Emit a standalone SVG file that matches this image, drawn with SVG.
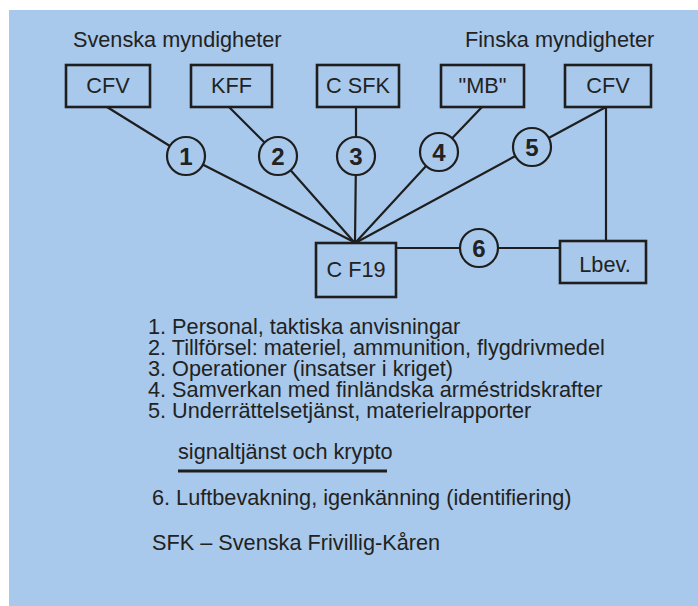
<svg xmlns="http://www.w3.org/2000/svg" width="698" height="606" viewBox="0 0 698 606">
<style>
  text { font-family: "Liberation Sans", Arial, sans-serif; fill: #222; }
  .t { font-size: 21.7px; }
  .num { font-size: 24px; font-weight: bold; text-anchor: middle; }
  .lbl { font-size: 21.7px; text-anchor: middle; }
  .box { fill: none; stroke: #1e1e1e; stroke-width: 2.6; }
  .circ { fill: #a8c9eb; stroke: #1e1e1e; stroke-width: 2.2; }
  .con { stroke: #1e1e1e; stroke-width: 2.2; fill: none; }
</style>
<rect x="0" y="0" width="698" height="606" fill="#ffffff"/>
<rect x="9" y="10" width="689" height="596" fill="#a8c9eb"/>

<text class="t" x="73" y="47">Svenska myndigheter</text>
<text class="t" x="465" y="47">Finska myndigheter</text>

<g id="connectors">
  <polyline class="con" points="107,107 186,156 354,242"/>
  <polyline class="con" points="229,107 278,156 354,242"/>
  <polyline class="con" points="356,107 356,156 355,242"/>
  <polyline class="con" points="482,107 439,152 356,242"/>
  <polyline class="con" points="606,107 532,147 357,242"/>
  <line class="con" x1="606" y1="107" x2="606" y2="241"/>
  <line class="con" x1="396" y1="248" x2="560" y2="248"/>
</g>

<g id="cfv-se"><rect class="box" x="66" y="65" width="84" height="42"/><text class="lbl" x="108" y="93">CFV</text></g>
<g id="kff"><rect class="box" x="191" y="65" width="81" height="42"/><text class="lbl" x="231.5" y="93">KFF</text></g>
<g id="csfk"><rect class="box" x="317" y="65" width="82" height="42"/><text class="lbl" x="358" y="93">C SFK</text></g>
<g id="mb"><rect class="box" x="441" y="65" width="83" height="42"/><text class="lbl" x="482.5" y="93">"MB"</text></g>
<g id="cfv-fi"><rect class="box" x="565" y="65" width="86" height="42"/><text class="lbl" x="608" y="93">CFV</text></g>
<g id="cf19"><rect class="box" x="316" y="243" width="80" height="54"/><text class="lbl" x="356" y="277">C F19</text></g>
<g id="lbev"><rect class="box" x="560" y="241" width="86" height="42"/><text class="lbl" x="605" y="272">Lbev.</text></g>

<g id="c1"><circle class="circ" cx="186" cy="156" r="19"/><text class="num" x="186" y="164.5">1</text></g>
<g id="c2"><circle class="circ" cx="278" cy="156" r="19"/><text class="num" x="278" y="164.5">2</text></g>
<g id="c3"><circle class="circ" cx="356" cy="156" r="19"/><text class="num" x="356" y="164.5">3</text></g>
<g id="c4"><circle class="circ" cx="439" cy="152" r="19"/><text class="num" x="439" y="160.5">4</text></g>
<g id="c5"><circle class="circ" cx="532" cy="147" r="19"/><text class="num" x="532" y="155.5">5</text></g>
<g id="c6"><circle class="circ" cx="479" cy="248" r="19"/><text class="num" x="479" y="256.5">6</text></g>

<g id="legend">
  <text class="t" x="148" y="334">1.  Personal, taktiska anvisningar</text>
  <text class="t" x="148" y="355">2.  Tillförsel: materiel, ammunition, flygdrivmedel</text>
  <text class="t" x="148" y="376">3.  Operationer (insatser i kriget)</text>
  <text class="t" x="148" y="397">4.  Samverkan med finländska arméstridskrafter</text>
  <text class="t" x="148" y="418">5.  Underrättelsetjänst, materielrapporter</text>
  <text class="t" x="178" y="459">signaltjänst och krypto</text>
  <line x1="178" y1="471" x2="387" y2="471" stroke="#1e1e1e" stroke-width="3"/>
  <text class="t" x="152" y="505">6.  Luftbevakning, igenkänning (identifiering)</text>
  <text class="t" x="152" y="550">SFK – Svenska Frivillig-Kåren</text>
</g>
</svg>
